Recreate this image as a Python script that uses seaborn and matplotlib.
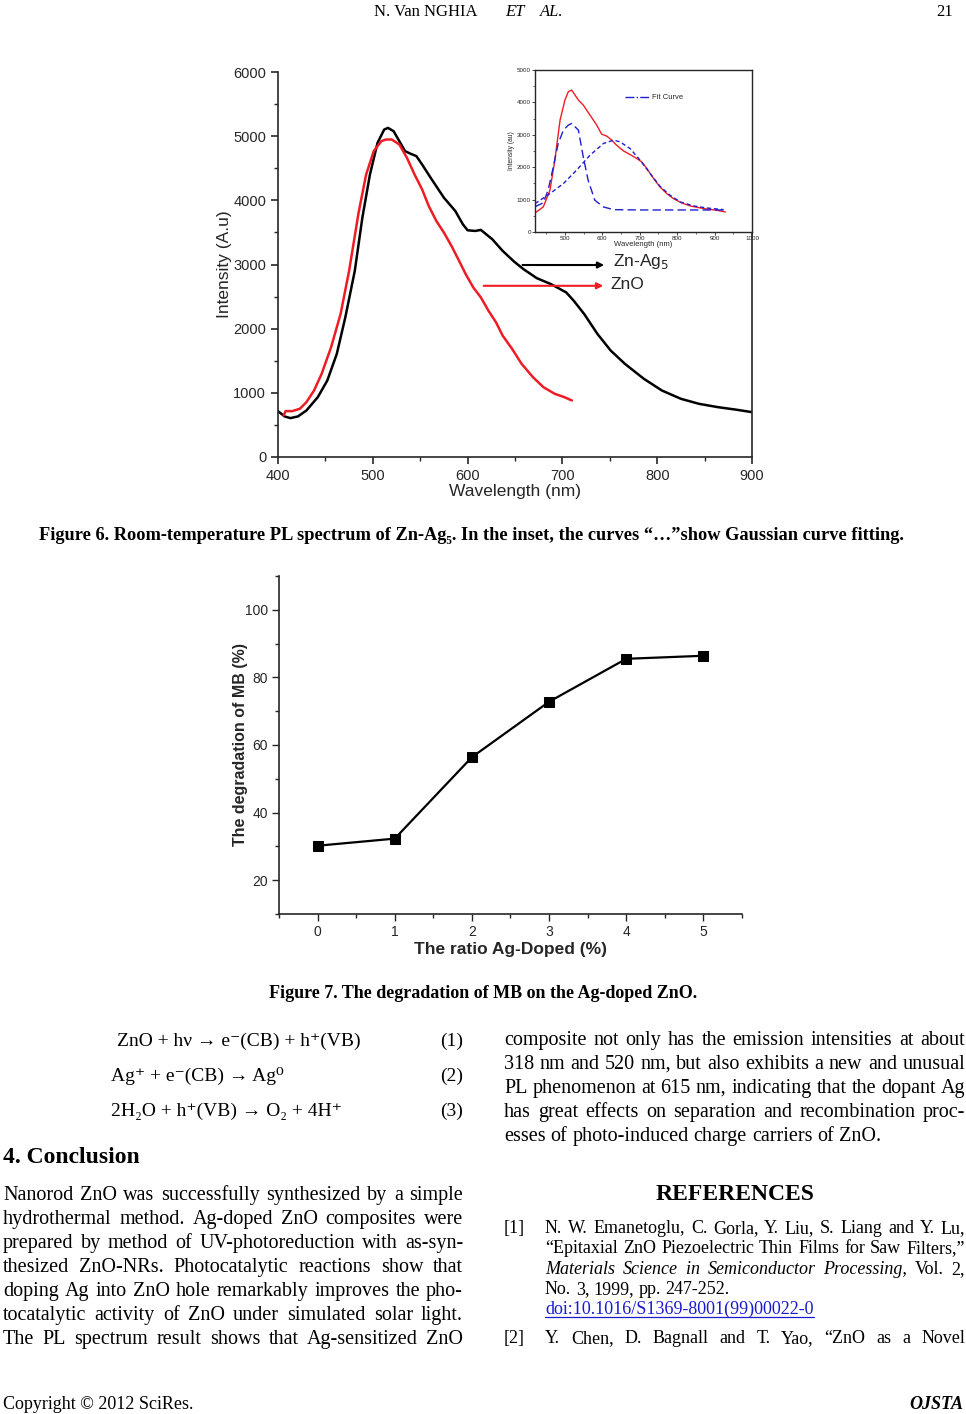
import numpy as np
import matplotlib
matplotlib.use("Agg")
import matplotlib.pyplot as plt
from matplotlib.lines import Line2D
from matplotlib.ticker import MultipleLocator
import seaborn as sns

# ---- Figure 6 data ----
zn_ag_wl = [400, 407, 413, 421, 430, 442, 452, 462, 471, 481, 489, 497, 505, 512, 516,
            522, 528, 534, 540, 546, 552, 561, 575, 587, 595, 600, 608, 614, 626, 637,
            649, 659, 673, 688, 704, 712, 723, 737, 751, 766, 786, 805, 825, 844, 864,
            884, 900]
zn_ag_int = [715, 632, 606, 632, 725, 933, 1192, 1606, 2176, 2901, 3730, 4404, 4896, 5103, 5129,
             5077, 4922, 4767, 4725, 4689, 4559, 4352, 4041, 3834, 3627, 3533, 3523, 3539, 3394, 3212,
             3046, 2927, 2787, 2694, 2565, 2435, 2228, 1917, 1658, 1451, 1218, 1036, 907, 829, 777,
             736, 699]

zno_wl = [406, 408, 415, 423, 430, 438, 446, 456, 466, 475, 485, 493, 501, 509, 514,
          520, 528, 536, 544, 552, 559, 567, 575, 583, 591, 598, 606, 614, 622, 630,
          637, 647, 657, 669, 680, 692, 702, 710]
zno_int = [648, 715, 715, 751, 855, 1036, 1295, 1710, 2228, 2901, 3808, 4404, 4767, 4922, 4948,
           4948, 4870, 4663, 4404, 4171, 3912, 3679, 3497, 3290, 3057, 2850, 2642, 2487, 2280, 2098,
           1891, 1684, 1451, 1243, 1088, 984, 933, 881]

# inset: measured spectrum and two gaussian components
inset_wl = [420, 442, 460, 473, 487, 500, 509, 518, 527, 536, 549, 567, 585, 598, 612,
            625, 638, 656, 674, 692, 705, 719, 737, 754, 772, 790, 812, 835, 871, 906, 929]
inset_total = [588, 773, 1289, 2216, 3454, 4072, 4330, 4381, 4227, 4072, 3918, 3608, 3299, 3021, 2959,
               2835, 2680, 2505, 2392, 2268, 2165, 1959, 1649, 1392, 1186, 1031, 897, 804, 722, 670, 619]

narrow_wl = [420, 442, 455, 469, 482, 496, 509, 518, 536, 549, 562, 580, 603, 630, 700, 800, 929]
narrow_int = [780, 900, 1289, 2010, 2732, 3144, 3299, 3350, 3144, 2320, 1598, 979, 773, 690, 680, 680, 680]

broad_wl = [420, 460, 496, 531, 567, 603, 630, 647, 674, 701, 728, 754, 781, 808, 844, 879, 924]
broad_int = [876, 1186, 1495, 1907, 2371, 2732, 2835, 2784, 2577, 2216, 1804, 1412, 1134, 928, 804, 742, 691]

# ---- Figure 7 data ----
ag_ratio = [0, 1, 2, 3, 4, 5]
mb_degradation = [30.2, 32.3, 56.4, 72.8, 85.5, 86.4]

W, H = 966, 1414
SERIF = ["Liberation Serif", "DejaVu Serif"]
SANS = ["Liberation Sans", "DejaVu Sans"]
RED = "#ee1c24"
BLUE = "#1f1fd0"
BODY = 14.5
REF = 13

sns.set_style("ticks")
plt.rcParams["font.family"] = SANS
plt.rcParams["axes.linewidth"] = 1.2

fig = plt.figure(figsize=(W / 100, H / 100), dpi=100)


def box(x0, y0, x1, y1):
    # pixel box (from top-left) -> figure fraction rect
    return [x0 / W, 1 - y1 / H, (x1 - x0) / W, (y1 - y0) / H]


# ---------------- Figure 6 ----------------
ax6 = fig.add_axes(box(278, 72, 752, 457))
sns.lineplot(x=zn_ag_wl, y=zn_ag_int, ax=ax6, color="black", lw=1.8, sort=False, estimator=None)
sns.lineplot(x=zno_wl, y=zno_int, ax=ax6, color=RED, lw=1.8, sort=False, estimator=None)
ax6.set_xlim(400, 900)
ax6.set_ylim(0, 6000)
ax6.xaxis.set_major_locator(MultipleLocator(100))
ax6.xaxis.set_minor_locator(MultipleLocator(50))
ax6.yaxis.set_major_locator(MultipleLocator(1000))
ax6.yaxis.set_minor_locator(MultipleLocator(500))
ax6.tick_params(which="major", direction="out", length=5, width=1.2, labelsize=10.5, pad=3.5)
ax6.tick_params(which="minor", direction="out", length=3, width=1.0)
ax6.spines["top"].set_visible(False)
ax6.set_xlabel("Wavelength (nm)", fontsize=12.5, labelpad=1)
ax6.set_ylabel("Intensity (A.u)", fontsize=12.5, labelpad=1)

ax6.annotate("", xy=(747, 2992), xytext=(655, 2992),
             arrowprops=dict(arrowstyle="-|>", color="black", lw=1.5, mutation_scale=9))
ax6.annotate("", xy=(746, 2668), xytext=(614, 2668),
             arrowprops=dict(arrowstyle="-|>", color=RED, lw=1.5, mutation_scale=9))
ax6.text(753, 3040, "Zn-Ag$_5$", fontsize=12.5, va="center")
ax6.text(751, 2681, "ZnO", fontsize=12.5, va="center")

# inset
axi = fig.add_axes(box(535, 70, 752, 232))
sns.lineplot(x=inset_wl, y=inset_total, ax=axi, color=RED, lw=1.0, sort=False, estimator=None)
sns.lineplot(x=narrow_wl, y=narrow_int, ax=axi, color=BLUE, lw=1.0, sort=False, estimator=None).lines[-1].set_dashes((6, 3))
sns.lineplot(x=broad_wl, y=broad_int, ax=axi, color=BLUE, lw=1.0, sort=False, estimator=None).lines[-1].set_dashes((3, 2))
axi.set_xlim(420, 1000)
axi.set_ylim(0, 5000)
axi.xaxis.set_major_locator(MultipleLocator(100))
axi.xaxis.set_minor_locator(MultipleLocator(50))
axi.yaxis.set_major_locator(MultipleLocator(1000))
axi.yaxis.set_minor_locator(MultipleLocator(500))
axi.tick_params(which="major", direction="out", length=2, width=0.6, labelsize=4.5, pad=1)
axi.tick_params(which="minor", direction="out", length=1.2, width=0.5)
for s in axi.spines.values():
    s.set_linewidth(1.0)
axi.set_xlabel("Wavelength (nm)", fontsize=5.5, labelpad=0)
axi.set_ylabel("Intensity (au)", fontsize=4.8, labelpad=1)
proxy = Line2D([], [], color=BLUE, lw=1.0, ls="-.")
axi.legend([proxy], ["Fit Curve"], loc="center left", bbox_to_anchor=(0.4, 0.83), frameon=False,
           fontsize=5.5, handlelength=3.2, handletextpad=0.3, borderaxespad=0)

# ---------------- Figure 7 ----------------
ax7 = fig.add_axes(box(279, 576, 742, 914))
sns.lineplot(x=ag_ratio, y=mb_degradation, ax=ax7, color="black", lw=1.6, marker="s",
             markersize=6.5, markeredgecolor="black", sort=False, estimator=None)
ax7.set_xlim(-0.5, 5.5)
ax7.set_ylim(10, 110)
ax7.xaxis.set_major_locator(MultipleLocator(1))
ax7.xaxis.set_minor_locator(MultipleLocator(0.5))
ax7.yaxis.set_major_locator(MultipleLocator(20))
ax7.yaxis.set_minor_locator(MultipleLocator(10))
ax7.tick_params(which="major", direction="out", length=5, width=1.0, labelsize=10, pad=3)
ax7.tick_params(which="minor", direction="out", length=3, width=1.0)
sns.despine(ax=ax7)
ax7.set_xlabel("The ratio Ag-Doped (%)", fontsize=12.5, fontweight="bold", labelpad=2)
ax7.set_ylabel("The degradation of MB (%)", fontsize=11.5, fontweight="bold")
ax7.yaxis.set_label_coords(-0.067, 0.5)

# ---------------- page text ----------------
renderer = fig.canvas.get_renderer()


def put(x, y, s, size, ha="left", weight="normal", style="normal", color="black"):
    return fig.text(x / W, 1 - y / H, s, fontsize=size, family=SERIF, ha=ha, va="baseline",
                    weight=weight, style=style, color=color)


def line(words, x0, y, size, x1=None, weight="normal", color="black"):
    # words laid out one by one, spread to x1 when the line is justified
    arts = []
    for w in words:
        s, st = w if isinstance(w, tuple) else (w, "normal")
        arts.append(put(x0, y, s, size, weight=weight, style=st, color=color))
    widths = [a.get_window_extent(renderer).width for a in arts]
    if x1 is not None and len(arts) > 1:
        gap = (x1 - x0 - sum(widths)) / (len(arts) - 1)
    else:
        gap = size * 100 / 72 * 0.25
    x = x0
    for a, wd in zip(arts, widths):
        a.set_x(x / W)
        x += wd + gap
    return x - gap


# header
put(478, 16, "N. Van NGHIA", 12, ha="right")
put(505, 16, "ET", 12, style="italic")
put(540, 16, "AL.", 12, style="italic")
put(953, 16, "21", 12, ha="right")

# captions
put(471, 540, "Figure 6. Room-temperature PL spectrum of Zn-Ag₅. In the inset, the curves “…”show Gaussian curve fitting.",
    13.2, ha="center", weight="bold")
put(483, 998, "Figure 7. The degradation of MB on the Ag-doped ZnO.", 13, ha="center", weight="bold")

# equations
put(117, 1046, "ZnO + hν → e⁻(CB) + h⁺(VB)", 14)
put(111, 1081, "Ag⁺ + e⁻(CB) → Ag⁰", 14)
put(111, 1116, "2H₂O + h⁺(VB) → O₂ + 4H⁺", 14)
for i, yy in enumerate([1046, 1081, 1116]):
    put(463, yy, f"({i + 1})", 14, ha="right")

put(3, 1163, "4. Conclusion", 17, weight="bold")

left_lines = [
    "Nanorod ZnO was successfully synthesized by a simple",
    "hydrothermal method. Ag-doped ZnO composites were",
    "prepared by method of UV-photoreduction with as-syn-",
    "thesized ZnO-NRs. Photocatalytic reactions show that",
    "doping Ag into ZnO hole remarkably improves the pho-",
    "tocatalytic activity of ZnO under simulated solar light.",
    "The PL spectrum result shows that Ag-sensitized ZnO",
]
for i, s in enumerate(left_lines):
    line(s.split(), 3, 1200 + 24 * i, BODY, x1=463)

right_lines = [
    "composite not only has the emission intensities at about",
    "318 nm and 520 nm, but also exhibits a new and unusual",
    "PL phenomenon at 615 nm, indicating that the dopant Ag",
    "has great effects on separation and recombination proc-",
    "esses of photo-induced charge carriers of ZnO.",
]
for i, s in enumerate(right_lines):
    line(s.split(), 504, 1045 + 24 * i, BODY, x1=965 if i < len(right_lines) - 1 else None)

put(735, 1200, "REFERENCES", 17, ha="center", weight="bold")

put(504, 1233, "[1]", REF)
line("N. W. Emanetoglu, C. Gorla, Y. Liu, S. Liang and Y. Lu,".split(), 545, 1233, REF, x1=965)
line("“Epitaxial ZnO Piezoelectric Thin Films for Saw Filters,”".split(), 545, 1253, REF, x1=965)
ref_words = [(w, "italic") for w in "Materials Science in Semiconductor".split()] + \
            [("Processing,", "italic"), ("Vol.", "normal"), ("2,", "normal")]
line(ref_words, 545, 1274, REF, x1=965)
line("No. 3, 1999, pp. 247-252.".split(), 545, 1294, REF)
doi_end = line(["doi:10.1016/S1369-8001(99)00022-0"], 545, 1314, REF, color="#1a1ad0")
fig.add_artist(Line2D([545 / W, doi_end / W], [1 - 1317 / H, 1 - 1317 / H], color="#1a1ad0", lw=0.9))
put(504, 1343, "[2]", REF)
line("Y. Chen, D. Bagnall and T. Yao, “ZnO as a Novel".split(), 545, 1343, REF, x1=965)

# footer
put(3, 1409, "Copyright © 2012 SciRes.", 13)
put(963, 1409, "OJSTA", 13, ha="right", weight="bold", style="italic")

fig.savefig("out.png", dpi=100)
